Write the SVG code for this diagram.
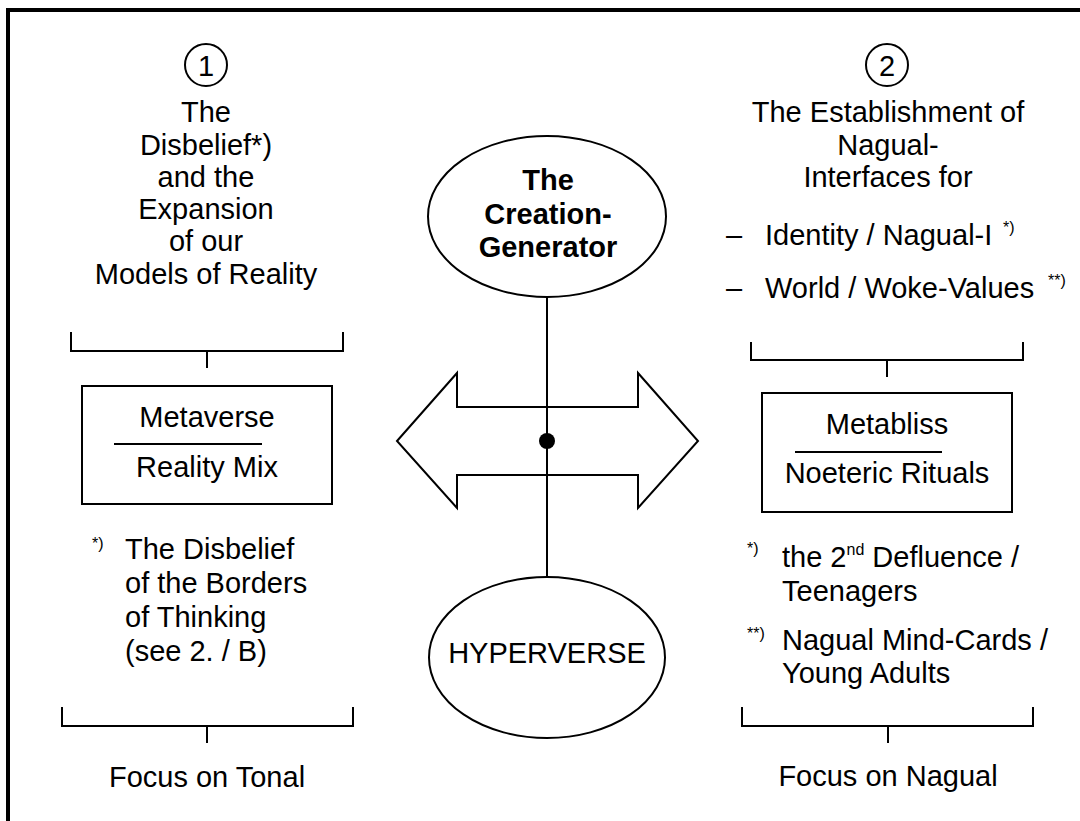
<svg xmlns="http://www.w3.org/2000/svg" width="1080" height="821" viewBox="0 0 1080 821">
  <style>
    text { font-family: "Liberation Sans", Arial, sans-serif; font-size: 29px; fill: #000; }
    .c { text-anchor: middle; }
    .b { font-weight: bold; }
    .sup { font-size: 16px; }
    .ln { fill: none; stroke: #000; stroke-width: 2; }
    .shape { fill: #fff; stroke: #000; stroke-width: 2; }
  </style>
  <rect x="0" y="0" width="1080" height="821" fill="#fff"/>
  <g id="frame">
    <path d="M8,823 L8,10 L1082,10" fill="none" stroke="#000" stroke-width="4"/>
  </g>

  <g id="connectors">
    <polygon class="shape" points="397,441 457,373 457,407 638,407 638,373 698,441 638,508 638,475 457,475 457,508"/>
    <line class="ln" x1="547" y1="297" x2="547" y2="577"/>
    <circle cx="547" cy="441" r="8" fill="#000"/>
    <path class="ln" d="M71,332 V351 H343 V332 M207,351 V368"/>
    <path class="ln" d="M62,707 V726 H353 V707 M207,726 V743"/>
    <path class="ln" d="M751,342 V360 H1023 V342 M887,360 V377"/>
    <path class="ln" d="M742,707 V726 H1033 V707 M888,726 V743"/>
  </g>

  <g id="heading1">
    <circle class="shape" cx="206" cy="65" r="21"/>
    <text class="c" x="206" y="75.5">1</text>
    <text class="c" x="206" y="122">The</text>
    <text class="c" x="206" y="154.5">Disbelief*)</text>
    <text class="c" x="206" y="187">and the</text>
    <text class="c" x="206" y="219">Expansion</text>
    <text class="c" x="206" y="251">of our</text>
    <text class="c" x="206" y="283.5">Models of Reality</text>
  </g>

  <g id="heading2">
    <circle class="shape" cx="887" cy="65" r="21"/>
    <text class="c" x="887" y="75.5">2</text>
    <text class="c" x="888" y="122">The Establishment of</text>
    <text class="c" x="888" y="154.5">Nagual-</text>
    <text class="c" x="888" y="187">Interfaces for</text>
    <text x="726" y="245">–</text>
    <text x="765" y="245">Identity / Nagual-I</text>
    <text class="sup" x="1003" y="233">*)</text>
    <text x="726" y="298">–</text>
    <text x="765" y="298">World / Woke-Values</text>
    <text class="sup" x="1048" y="286">**)</text>
  </g>

  <g id="creation-generator">
    <ellipse class="shape" cx="547" cy="216.5" rx="119" ry="80.5"/>
    <text class="c b" x="548" y="190">The</text>
    <text class="c b" x="548" y="223.5">Creation-</text>
    <text class="c b" x="548" y="257">Generator</text>
  </g>

  <g id="hyperverse">
    <ellipse class="shape" cx="547" cy="657.5" rx="118" ry="80.5"/>
    <text class="c" x="547" y="663">HYPERVERSE</text>
  </g>

  <g id="metaverse">
    <rect class="shape" x="82" y="386" width="250" height="118"/>
    <text class="c" x="207" y="427">Metaverse</text>
    <line class="ln" x1="114" y1="444" x2="262" y2="444"/>
    <text class="c" x="207" y="477">Reality Mix</text>
  </g>

  <g id="metabliss">
    <rect class="shape" x="762" y="393" width="250" height="119"/>
    <text class="c" x="887" y="434">Metabliss</text>
    <line class="ln" x1="795" y1="452" x2="942" y2="452"/>
    <text class="c" x="887" y="483">Noeteric Rituals</text>
  </g>

  <g id="footnote1">
    <text class="sup" x="92" y="549">*)</text>
    <text x="125" y="559">The Disbelief</text>
    <text x="125" y="593">of the Borders</text>
    <text x="125" y="627">of Thinking</text>
    <text x="125" y="661">(see 2. / B)</text>
  </g>

  <g id="footnote2">
    <text class="sup" x="747" y="554">*)</text>
    <text x="782" y="567">the 2<tspan font-size="16" dy="-12">nd</tspan><tspan dy="12"> Defluence /</tspan></text>
    <text x="782" y="601">Teenagers</text>
    <text class="sup" x="747" y="639">**)</text>
    <text x="782" y="650">Nagual Mind-Cards /</text>
    <text x="782" y="683">Young Adults</text>
  </g>

  <g id="focus-tonal">
    <text class="c" x="207" y="787">Focus on Tonal</text>
  </g>
  <g id="focus-nagual">
    <text class="c" x="888" y="786">Focus on Nagual</text>
  </g>
</svg>
